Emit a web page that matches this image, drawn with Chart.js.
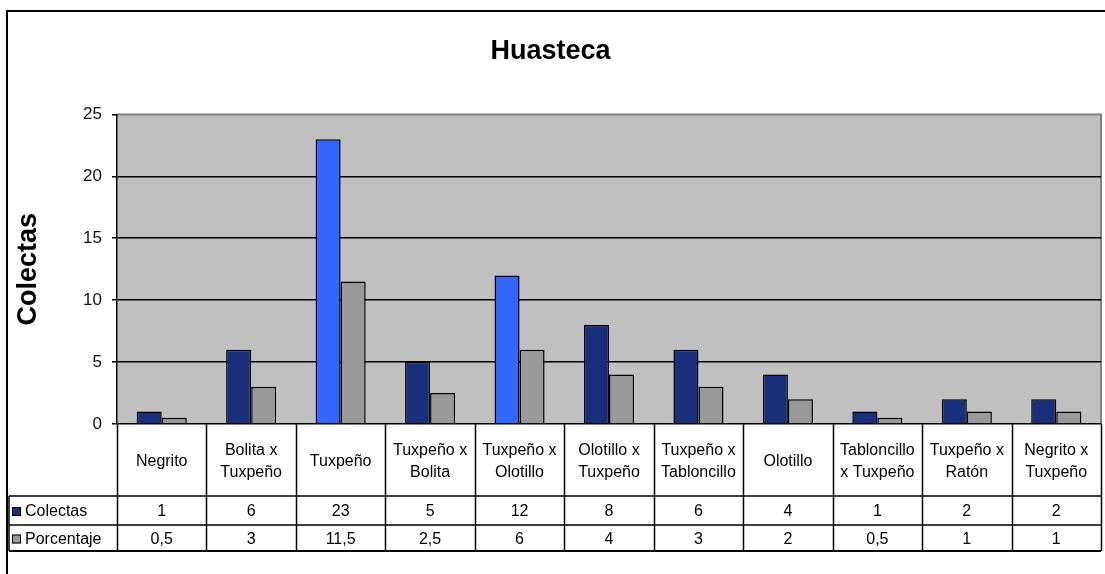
<!DOCTYPE html>
<html>
<head>
<meta charset="utf-8">
<title>Huasteca</title>
<script src="https://cdn.jsdelivr.net/npm/chart.js@4/dist/chart.umd.min.js"></script>
<style>
  html, body { margin: 0; padding: 0; background: #fff; }
  canvas { display: block; }
</style>
</head>
<body>
<canvas id="chart" width="1105" height="574"></canvas>
<script>
// ── Data ──────────────────────────────────────────────────────────────────────

const categories = [
  ['Negrito'],
  ['Bolita x', 'Tuxpeño'],
  ['Tuxpeño'],
  ['Tuxpeño x', 'Bolita'],
  ['Tuxpeño x', 'Olotillo'],
  ['Olotillo x', 'Tuxpeño'],
  ['Tuxpeño x', 'Tabloncillo'],
  ['Olotillo'],
  ['Tabloncillo', 'x Tuxpeño'],
  ['Tuxpeño x', 'Ratón'],
  ['Negrito x', 'Tuxpeño'],
];
const colectas = [1, 6, 23, 5, 12, 8, 6, 4, 1, 2, 2];
const porcentaje = [0.5, 3, 11.5, 2.5, 6, 4, 3, 2, 0.5, 1, 1];
const highlighted = [2, 4]; // bars drawn in bright blue

const yTicks = [0, 5, 10, 15, 20, 25];

const FONT = '"Liberation Sans", Arial, sans-serif';
const NAVY = '#1a2f7c';
const BRIGHT = '#3366ff';
const GRAY = '#999999';

const fmtVal = v => String(v).replace('.', ',');

// ── Background + frame ────────────────────────────────────────────────────────

const backgroundPlugin = {
  id: 'background',
  beforeDraw(chart) {
    const { ctx, chartArea: a } = chart;
    ctx.save();
    ctx.fillStyle = '#ffffff';
    ctx.fillRect(0, 0, chart.width, chart.height);
    // outer frame (runs off the right and bottom edges)
    ctx.strokeStyle = '#000';
    ctx.lineWidth = 2;
    ctx.strokeRect(7, 11, chart.width + 20, chart.height + 20);
    // plot area
    ctx.fillStyle = '#c0c0c0';
    ctx.fillRect(a.left, a.top, a.right - a.left, a.bottom - a.top);
    ctx.strokeStyle = '#808080';
    ctx.lineWidth = 2;
    ctx.beginPath();
    ctx.moveTo(a.left, a.top);
    ctx.lineTo(a.right, a.top);
    ctx.lineTo(a.right, a.bottom);
    ctx.stroke();
    ctx.restore();
  },
};

// ── Data table under the plot ────────────────────────────────────────────────

const dataTablePlugin = {
  id: 'dataTable',
  afterDraw(chart) {
    const { ctx, chartArea: a } = chart;
    const n = categories.length;
    const step = (a.right - a.left) / n;
    const yTop = a.bottom;
    const yRow1 = 496;
    const yRow2 = 525;
    const yBottom = 551;
    const xLegend = 9;

    ctx.save();
    ctx.strokeStyle = '#000';
    ctx.lineWidth = 1.5;

    // horizontal lines
    ctx.beginPath();
    ctx.moveTo(xLegend, yRow1); ctx.lineTo(a.right, yRow1);
    ctx.moveTo(xLegend, yRow2); ctx.lineTo(a.right, yRow2);
    ctx.stroke();
    ctx.lineWidth = 2;
    ctx.beginPath();
    ctx.moveTo(xLegend, yBottom); ctx.lineTo(a.right, yBottom);
    ctx.stroke();

    // vertical lines
    ctx.lineWidth = 1.5;
    ctx.beginPath();
    ctx.moveTo(xLegend, yRow1); ctx.lineTo(xLegend, yBottom);
    for (let i = 0; i <= n; i++) {
      const x = Math.round(a.left + i * step) + 0.5;
      ctx.moveTo(x, yTop); ctx.lineTo(x, yBottom);
    }
    ctx.stroke();

    // category labels
    ctx.fillStyle = '#000';
    ctx.font = `16px ${FONT}`;
    ctx.textAlign = 'center';
    ctx.textBaseline = 'middle';
    const midHead = (yTop + yRow1) / 2 + 2;
    categories.forEach((lines, i) => {
      const cx = a.left + (i + 0.5) * step;
      const lh = 22;
      const y0 = midHead - ((lines.length - 1) * lh) / 2;
      lines.forEach((t, j) => ctx.fillText(t, cx, y0 + j * lh));
    });

    // values
    colectas.forEach((v, i) => {
      ctx.fillText(fmtVal(v), a.left + (i + 0.5) * step, (yRow1 + yRow2) / 2 + 1.5);
    });
    porcentaje.forEach((v, i) => {
      ctx.fillText(fmtVal(v), a.left + (i + 0.5) * step, (yRow2 + yBottom) / 2 + 1.5);
    });

    // legend keys
    const keys = [
      { label: 'Colectas', color: NAVY, y: (yRow1 + yRow2) / 2 + 1.5 },
      { label: 'Porcentaje', color: GRAY, y: (yRow2 + yBottom) / 2 + 1.5 },
    ];
    ctx.textAlign = 'left';
    ctx.lineWidth = 1;
    for (const k of keys) {
      ctx.fillStyle = k.color;
      ctx.fillRect(12, k.y - 5, 9, 9);
      ctx.strokeStyle = '#000';
      ctx.strokeRect(12.5, k.y - 4.5, 8, 8);
      ctx.fillStyle = '#000';
      ctx.fillText(k.label, 25, k.y);
    }
    ctx.restore();
  },
};

// ── Chart ─────────────────────────────────────────────────────────────────────

new Chart(document.getElementById('chart'), {
  type: 'bar',
  data: {
    labels: categories,
    datasets: [
      {
        label: 'Colectas',
        data: colectas,
        backgroundColor: colectas.map((_, i) => highlighted.includes(i) ? BRIGHT : NAVY),
        borderColor: '#000',
        borderWidth: 1.5,
        categoryPercentage: 0.56,
        barPercentage: 1,
      },
      {
        label: 'Porcentaje',
        data: porcentaje,
        backgroundColor: GRAY,
        borderColor: '#000',
        borderWidth: 1.5,
        categoryPercentage: 0.56,
        barPercentage: 1,
      },
    ],
  },
  options: {
    responsive: false,
    animation: false,
    devicePixelRatio: 1,
    layout: { padding: { left: 0, right: 4, top: 0, bottom: 150 } },
    plugins: {
      legend: { display: false },
      tooltip: { enabled: false },
      title: {
        display: true,
        text: 'Huasteca',
        color: '#000',
        font: { family: FONT, size: 27, weight: 'bold' },
        padding: { top: 35, bottom: 47 },
      },
    },
    scales: {
      x: {
        display: false,
      },
      y: {
        min: 0,
        max: 25,
        afterFit(scale) { scale.width = 117; },
        afterBuildTicks(scale) { scale.ticks = yTicks.map(v => ({ value: v })); },
        border: { display: true, color: '#000', width: 1.5 },
        grid: {
          color: ctx => (ctx.tick && ctx.tick.value === 25 ? 'rgba(0,0,0,0)' : '#000'),
          tickColor: '#000',
          lineWidth: 1.5,
          tickLength: 5,
        },
        ticks: {
          color: '#111',
          padding: 10,
          font: { family: FONT, size: 17 },
        },
        title: {
          display: true,
          text: 'Colectas',
          color: '#000',
          font: { family: FONT, size: 27, weight: 'bold' },
          padding: { top: 12, bottom: 0 },
        },
      },
    },
  },
  plugins: [backgroundPlugin, dataTablePlugin],
});
</script>
</body>
</html>
